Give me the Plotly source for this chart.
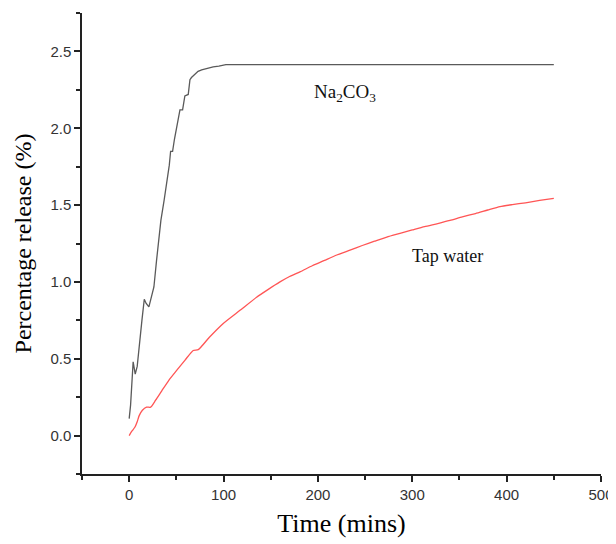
import plotly.graph_objects as go

# Na2CO3 release (gray curve)
na_time = [0, 1.5, 4.2, 6.4, 8.5, 11, 13.5, 16, 18, 20.9, 23.5, 26.2, 29, 31.5, 33.6, 37, 40.7, 42.5, 43.9, 46,
           48, 50, 52, 53.8, 56.6, 59, 62.6, 64.4, 66, 69.7, 73, 76.8, 82, 89, 95, 101.5, 102.5, 150, 200, 300, 400, 450]
na_value = [0.11, 0.2, 0.48, 0.40, 0.45, 0.62, 0.75, 0.887, 0.86, 0.837, 0.9, 0.967, 1.14, 1.28, 1.40, 1.53, 1.675, 1.76, 1.85, 1.85,
            1.93, 2.0, 2.06, 2.12, 2.12, 2.21, 2.22, 2.316, 2.33, 2.35, 2.37, 2.38, 2.39, 2.40, 2.405, 2.41, 2.414, 2.414, 2.414, 2.414, 2.414, 2.414]

# Tap water release (red curve)
tap_time = [0, 3, 6, 8.5, 10.6, 14, 18.4, 22.7, 28, 34.4, 42, 50.3, 59, 67.9, 73.2, 85, 99.7, 117.4, 135, 147, 159.8, 170, 181,
            194, 207, 220, 234, 247, 260, 273, 287, 300, 313, 327, 340, 353, 367, 380, 393, 406, 420, 435, 450]
tap_value = [0.0, 0.03, 0.054, 0.09, 0.13, 0.165, 0.185, 0.185, 0.23, 0.29, 0.36, 0.424, 0.49, 0.554, 0.559, 0.64, 0.73, 0.815, 0.90, 0.95, 1.0, 1.035, 1.065,
             1.105, 1.14, 1.175, 1.207, 1.237, 1.265, 1.292, 1.316, 1.338, 1.36, 1.38, 1.40, 1.423, 1.445, 1.468, 1.49, 1.503, 1.515, 1.53, 1.544]

x_ticks = [0, 100, 200, 300, 400, 500]
y_ticks = [0.0, 0.5, 1.0, 1.5, 2.0, 2.5]

fig = go.Figure()
fig.add_trace(go.Scatter(x=na_time, y=na_value, mode="lines",
                         line=dict(color="#5a5a5a", width=1.3), name="Na2CO3"))
fig.add_trace(go.Scatter(x=tap_time, y=tap_value, mode="lines",
                         line=dict(color="#ff5555", width=1.3, shape="spline", smoothing=0.6), name="Tap water"))

fig.add_annotation(x=229, y=2.23, text="Na<sub>2</sub>CO<sub>3</sub>", showarrow=False,
                   font=dict(family="Liberation Serif", size=19, color="#111"))
fig.add_annotation(x=337, y=1.17, text="Tap water", showarrow=False,
                   font=dict(family="Liberation Serif", size=18, color="#111"))

axis_common = dict(showgrid=False, zeroline=False, showline=True, linecolor="#222", linewidth=1.5,
                   ticks="outside", ticklen=6, tickwidth=1.5, tickcolor="#222", automargin=False,
                   tickfont=dict(family="Liberation Sans", size=15, color="#333"))

# the page body adds an 8px offset; figure is sized to fit the window
fig.update_layout(
    width=608, height=536,
    paper_bgcolor="white", plot_bgcolor="white",
    margin=dict(l=74, r=15, t=5, b=70),
    showlegend=False,
    xaxis=dict(range=[-50, 500], tickvals=x_ticks,
               minor=dict(ticks="outside", ticklen=4, tickwidth=1.5, tickcolor="#222", dtick=50, tick0=0),
               title=dict(text="Time (mins)", font=dict(family="Liberation Serif", size=26, color="#000"), standoff=12),
               **axis_common),
    yaxis=dict(range=[-0.25, 2.75], tickvals=y_ticks, tickformat=".1f",
               minor=dict(ticks="outside", ticklen=4, tickwidth=1.5, tickcolor="#222", dtick=0.25, tick0=0),
               title=dict(text="Percentage release (%)", font=dict(family="Liberation Serif", size=24, color="#000"), standoff=12),
               **axis_common),
)

fig.write_html("out.html")
